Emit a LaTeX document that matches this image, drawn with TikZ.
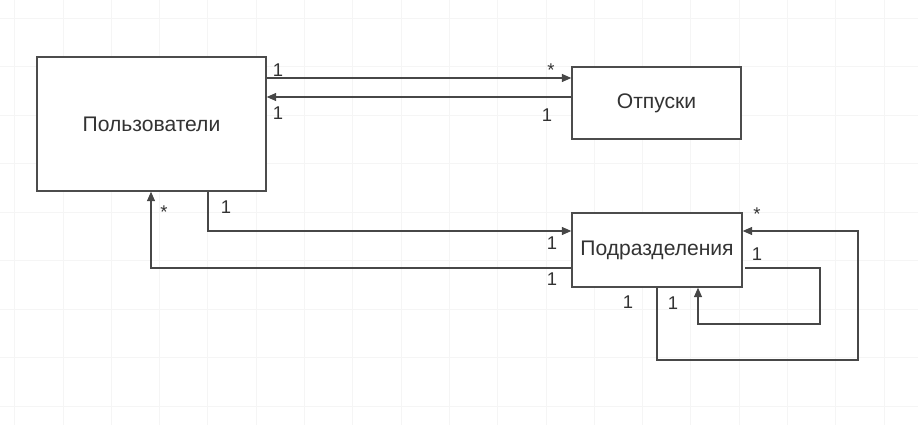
\documentclass[tikz,border=0pt]{standalone}
\usepackage{fontspec}
\setmainfont{Liberation Sans}
\usetikzlibrary{
    arrows.meta
}

\begin{document}
\begin{tikzpicture}[
    x=0.02cm,
    y=-0.02cm,
    font=\fontsize{12}{14}\selectfont,
    entity/.style={
        rectangle,
        draw=black!70,
        line width=0.8pt,
        align=center,
        text=black!80,
        fill=white,
        inner sep=0pt
    },
    link/.style={
        -{Triangle[length=1.9mm,width=1.6mm]},
        line width=0.75pt,
        draw=black!72
    },
    mult/.style={
        font=\fontsize{10.5}{12}\selectfont,
        text=black!80,
        inner sep=0pt
    },
    gridline/.style={
        draw=black!4,
        line width=0.5pt
    }
]

\useasboundingbox (0,0) rectangle (918,425);

% =========================================================
% Faint background grid
% =========================================================
\foreach \i in {0,...,18} {
    \draw[gridline] ({14.7+48.3*\i},0) -- ({14.7+48.3*\i},425);
}
\foreach \j in {0,...,8} {
    \draw[gridline] (0,{18+48.5*\j}) -- (918,{18+48.5*\j});
}

% =========================================================
% Entities
% =========================================================
\node[entity, minimum width=4.58cm, minimum height=2.68cm] (users) at (151.5,124)
{Пользователи};

\node[entity, minimum width=3.38cm, minimum height=1.44cm] (leave) at (656.5,103)
{Отпуски};

\node[entity, minimum width=3.4cm, minimum height=1.48cm] (units) at (657,250)
{Подразделения};

% =========================================================
% Helper rows and columns for the connectors
% =========================================================
\coordinate (rowA) at (0,78);
\coordinate (rowB) at (0,97);
\coordinate (rowC) at (0,231);
\coordinate (rowD) at (0,268);
\coordinate (rowE) at (0,324);
\coordinate (rowF) at (0,360);
\coordinate (colA) at (151,0);
\coordinate (colB) at (208,0);
\coordinate (colC) at (698,0);
\coordinate (colD) at (820,0);
\coordinate (colE) at (858,0);

% =========================================================
% Users <-> Leave
% =========================================================
\draw[link] (users.east |- rowA) -- (leave.west |- rowA);
\draw[link] (leave.west |- rowB) -- (users.east |- rowB);

% =========================================================
% Users <-> Units
% =========================================================
\draw[link] (users.south -| colB) -- (colB |- rowC) -- (units.west |- rowC);
\draw[link] (units.west |- rowD) -- (colA |- rowD) -- (users.south -| colA);

% =========================================================
% Units self references
% =========================================================
\draw[link] ([xshift=1.5pt]units.east |- rowD) -- (colD |- rowD) -- (colD |- rowE)
    -- (colC |- rowE) -- (units.south -| colC);
\draw[link] (units.south) -- (units.south |- rowF) -- (colE |- rowF)
    -- (colE |- rowC) -- (units.east |- rowC);

% =========================================================
% Multiplicities
% =========================================================
\node[mult] (mA1) at (278,70) {1};
\node[mult] (mA2) at (551,70) {*};
\node[mult] (mB1) at (278,113) {1};
\node[mult] (mB2) at (547,115) {1};
\node[mult] (mC1) at (226,207) {1};
\node[mult] (mC2) at (552,243) {1};
\node[mult] (mD1) at (164,212) {*};
\node[mult] (mD2) at (552,279) {1};
\node[mult] (mE1) at (757,254) {1};
\node[mult] (mE2) at (673,303) {1};
\node[mult] (mF1) at (757,214) {*};
\node[mult] (mF2) at (628,302) {1};

\end{tikzpicture}
\end{document}
